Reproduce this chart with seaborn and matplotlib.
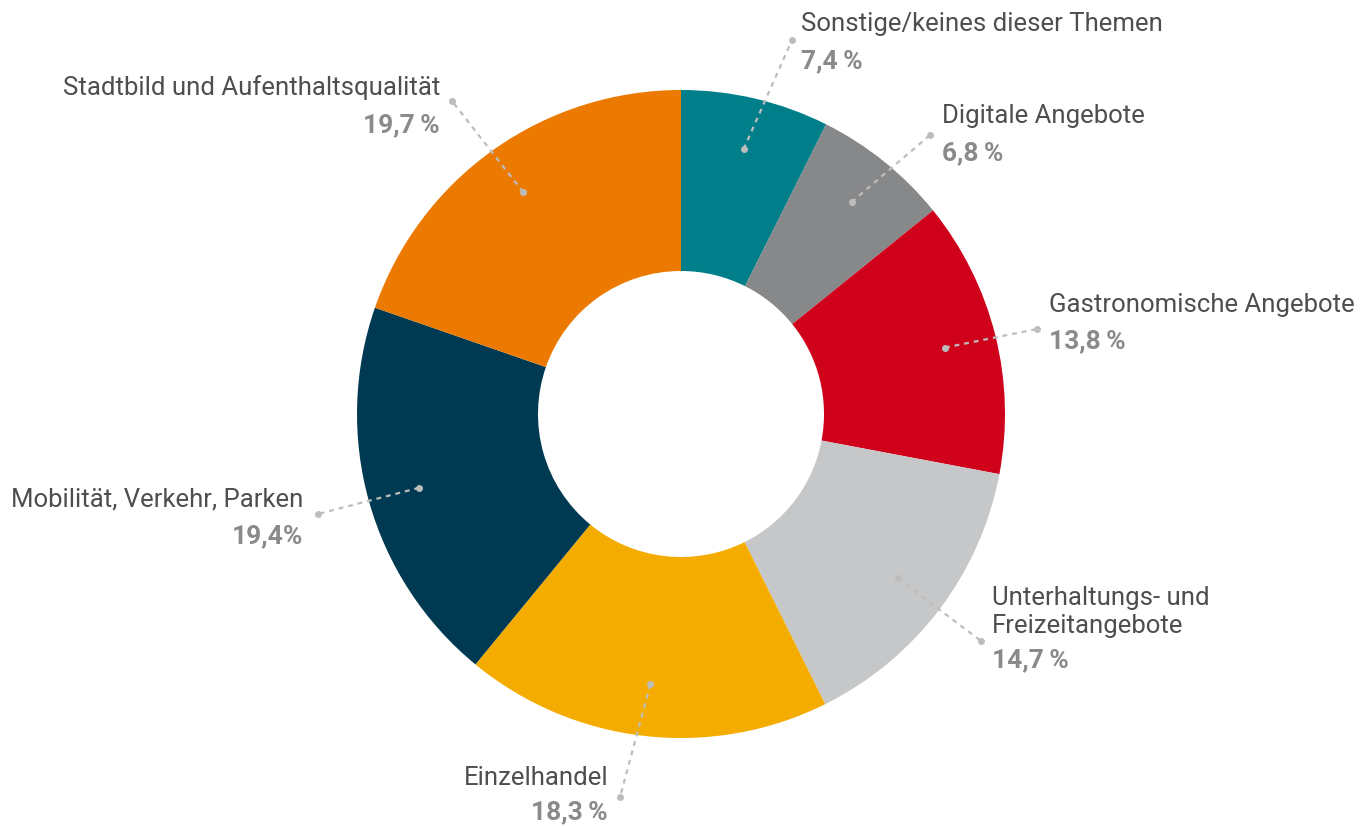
import numpy as np
import matplotlib
matplotlib.use("Agg")
import matplotlib.pyplot as plt
import seaborn as sns

categories = ["Sonstige/keines dieser Themen", "Digitale Angebote", "Gastronomische Angebote",
              "Unterhaltungs- und\nFreizeitangebote", "Einzelhandel", "Mobilität, Verkehr, Parken",
              "Stadtbild und Aufenthaltsqualität"]
values = [7.4, 6.8, 13.8, 14.7, 18.3, 19.4, 19.7]
pct_labels = ["7,4\u2009%", "6,8\u2009%", "13,8\u2009%", "14,7\u2009%", "18,3\u2009%", "19,4%", "19,7\u2009%"]
colors = ["#007E8A", "#87888A", "#D0021B", "#C6C7C9", "#F5AC00", "#003A52", "#EC7A00"]

# label layout (pixel positions, y from top): text x, name_y, pct_y, align, leader end x, leader end y
label_pos = [
    (801, 24, 61, "left", 792, 40),
    (942, 116, 153, "left", 930, 135),
    (1049, 305, 341, "left", 1037, 329),
    (992, 612, 660, "left", 981, 641),
    (608, 778, 812, "right", 620, 797),
    (303, 499, 536, "right", 318, 514),
    (440, 88, 125, "right", 452, 101),
]

sns.set_theme(style="white")
plt.rcParams["font.family"] = ["Roboto", "DejaVu Sans"]

W, H = 1371, 827
fig = plt.figure(figsize=(W / 100, H / 100), dpi=100)
ax = fig.add_axes([0, 0, 1, 1])

cx, cy, R = 681, H - 414, 324
wedges, _ = ax.pie(values, colors=colors, startangle=90, counterclock=False,
                   radius=R, center=(cx, cy),
                   wedgeprops=dict(width=R - 143, linewidth=0))
ax.set_xlim(0, W)
ax.set_ylim(0, H)
ax.set_aspect("equal")
ax.axis("off")

line_col = "#BDBDBD"
for w, name, pct, (lx, ny, py, ha, ex, ey) in zip(wedges, categories, pct_labels, label_pos):
    ang = np.deg2rad((w.theta1 + w.theta2) / 2)
    x0, y0 = cx + 0.84 * R * np.cos(ang), cy + 0.84 * R * np.sin(ang)
    x1, y1 = ex, H - ey
    ax.plot([x0, x1], [y0, y1], color=line_col, lw=1.6, dashes=(2.2, 2.2), zorder=5)
    ax.plot([x0, x1], [y0, y1], "o", color=line_col, ms=4, zorder=6)
    ax.text(lx, H - ny, name, ha=ha, va="center", fontsize=18.5, color="#4E4E4E",
            linespacing=1.2, multialignment=ha)
    ax.text(lx, H - py, pct, ha=ha, va="center", fontsize=19, fontweight="bold",
            color="#8A8A8A")

fig.savefig("out.png", dpi=100)
